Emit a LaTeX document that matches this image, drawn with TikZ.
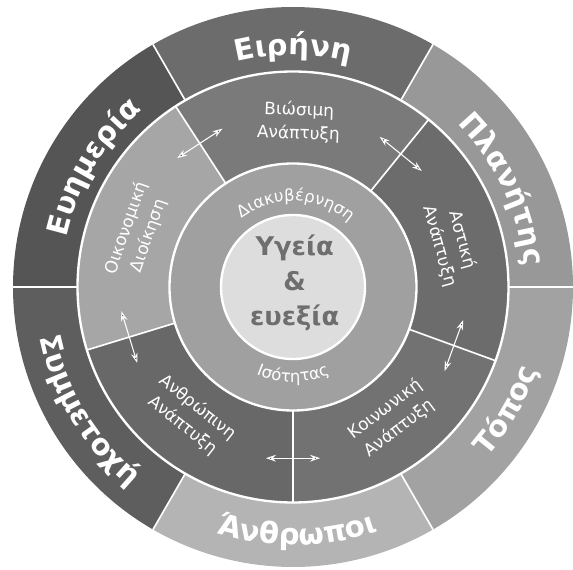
\documentclass[tikz,border=0pt]{standalone}
\usepackage{fontspec}
\setmainfont{DejaVu Sans}
\usetikzlibrary{arrows.meta, decorations.text}
\definecolor{peacegray}{HTML}{6C6C6C}
\definecolor{planetgray}{HTML}{989898}
\definecolor{placegray}{HTML}{A2A2A2}
\definecolor{peoplegray}{HTML}{B4B4B4}
\definecolor{sharegray}{HTML}{5E5E5E}
\definecolor{welfaregray}{HTML}{555555}
\definecolor{sustgray}{HTML}{7A7A7A}
\definecolor{urbangray}{HTML}{6C6C6C}
\definecolor{socialgray}{HTML}{727272}
\definecolor{humangray}{HTML}{686868}
\definecolor{econgray}{HTML}{A6A6A6}
\definecolor{govgray}{HTML}{A0A0A0}
\definecolor{coregray}{HTML}{DDDDDD}
\definecolor{coretext}{HTML}{6E6E6E}
\newcommand{\bandfont}{\fontsize{25}{30}\selectfont\bfseries}
\newcommand{\midfont}{\fontsize{14.5}{20}\selectfont}
\newcommand{\govfont}{\fontsize{14}{17}\selectfont}
\newcommand{\corefont}{\fontsize{22}{30}\selectfont\bfseries}
\tikzset{
  ringline/.style={draw=white, line width=2pt},
  divline/.style={draw=white, line width=1.4pt},
  arctext/.style={decorate, decoration={text along path, text align=center,
                  text color=white, text={#1}}},
  midlabel/.style={text=white, align=center, font=\midfont, inner sep=0pt},
  corelabel/.style={text=coretext, align=center, font=\corefont, inner sep=0pt},
  twoway/.style={{Stealth[length=3mm, width=2mm]}-{Stealth[length=3mm, width=2mm]},
                 draw=white, line width=0.9pt},
}

\begin{document}
\begin{tikzpicture}
  \useasboundingbox (-8.79,-8.46) rectangle (8.4,8.61);
  % outer band
  \foreach \s/\e/\c in {0/60/planetgray, 60/120/peacegray, 120/180/welfaregray,
                        180/240/sharegray, 240/300/peoplegray, 300/360/placegray}{
    \fill[\c] (\s:6.465) -- (\s:8.4) arc[start angle=\s, end angle=\e, radius=8.4]
          -- (\e:6.465) arc[start angle=\e, end angle=\s, radius=6.465] -- cycle;
  }
  % middle band
  \foreach \s/\e/\c in {-20/51/urbangray, 51/123/sustgray, 123/197/econgray,
                        197/270/humangray, 270/340/socialgray}{
    \fill[\c] (\s:3.705) -- (\s:6.465) arc[start angle=\s, end angle=\e, radius=6.465]
          -- (\e:3.705) arc[start angle=\e, end angle=\s, radius=3.705] -- cycle;
  }
  \fill[govgray] (0,0) circle[radius=3.705];
  \fill[coregray] (0,0) circle[radius=2.16];

  \foreach \a in {0,60,...,300}
    \draw[divline] (\a:6.465) -- (\a:8.4);
  \foreach \a in {-20,51,123,197,270}
    \draw[divline] (\a:3.705) -- (\a:6.465);
  \draw[ringline] (0,0) circle[radius=6.465];
  \draw[ringline] (0,0) circle[radius=3.705];
  \draw[ringline] (0,0) circle[radius=2.16];

  % outer labels
  \path[arctext={|\bandfont|Ειρήνη}] (120:6.96) arc[start angle=120, end angle=60, radius=6.96];
  \path[arctext={|\bandfont|Πλανήτης}] (55:6.96) arc[start angle=55, end angle=-5, radius=6.96];
  \path[arctext={|\bandfont|Ευημερία}] (179:6.96) arc[start angle=179, end angle=119, radius=6.96];
  \path[arctext={|\bandfont|Τόπος}] (-60:7.74) arc[start angle=-60, end angle=0, radius=7.74];
  \path[arctext={|\bandfont|Άνθρωποι}] (-119:7.74) arc[start angle=-119, end angle=-59, radius=7.74];
  \path[arctext={|\bandfont|Συμμετοχή}] (181:7.74) arc[start angle=181, end angle=241, radius=7.74];

  % middle labels
  \node[midlabel, rotate=-2] (sust) at (88:4.95) {Βιώσιμη\\Ανάπτυξη};
  \node[midlabel, rotate=-74.5] (urban) at (15.5:4.92) {Αστική\\Ανάπτυξη};
  \node[midlabel, rotate=37] (social) at (-53:4.95) {Κοινωνική\\Ανάπτυξη};
  \node[midlabel, rotate=-38.5] (human) at (231.5:4.95) {Ανθρώπινη\\Ανάπτυξη};
  \node[midlabel, rotate=70.5] (econ) at (160.5:4.95) {Οικονομική\\Διοίκηση};

  % governance ring
  \path[arctext={|\govfont|Διακυβέρνηση}] (150:2.58) arc[start angle=150, end angle=26, radius=2.58];
  \path[arctext={|\govfont|Ισότητας}] (-150:2.85) arc[start angle=-150, end angle=-30, radius=2.85];

  \node[corelabel] (core) at (0.05,0.12) {Υγεία\\\&\\ευεξία};

  \foreach \a [count=\i] in {123,51,-20,270,197}{
    \coordinate (tw\i-a) at (\a+9:5.2);
    \coordinate (tw\i-b) at (\a-9:5.2);
    \draw[twoway] (tw\i-a) -- (tw\i-b);
  }
\end{tikzpicture}
\end{document}
